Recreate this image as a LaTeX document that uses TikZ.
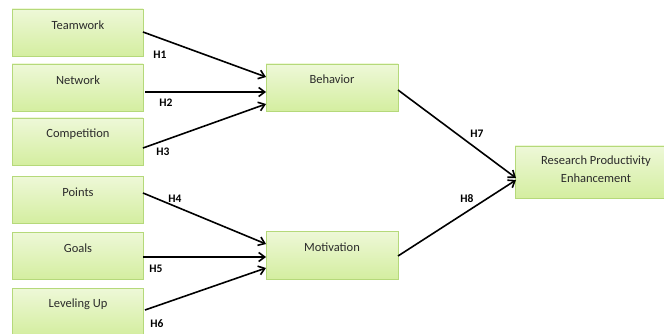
\documentclass[tikz,border=0pt]{standalone}
\usepackage{fontspec}
\setmainfont{Carlito}
\usetikzlibrary{arrows.meta,shadows}
\definecolor{boxline}{HTML}{B5D97A}
\definecolor{boxtop}{HTML}{EEF8D8}
\definecolor{boxbot}{HTML}{D4EEA0}
\definecolor{txt}{HTML}{2B2B2B}
\begin{document}
\begin{tikzpicture}[x=1pt,y=-1pt,
  box/.style={draw=boxline, line width=0.9pt, top color=boxtop, bottom color=boxbot,
     drop shadow={opacity=0.25, shadow xshift=1pt, shadow yshift=-1.2pt}},
  lbl/.style={font=\fontsize{12.5}{18}\selectfont, text=txt, anchor=center},
  hl/.style={font=\bfseries\fontsize{11.5}{13}\selectfont},
  arr/.style={-{Straight Barb[length=6pt,width=9pt,line width=1.6pt]}, line width=1.6pt, black}]
\useasboundingbox (0,0) rectangle (664,334);
% left boxes
\foreach \n/\t/\y in {tw/Teamwork/9, nw/Network/64, cp/Competition/118, pt/Points/176, gl/Goals/232, lv/Leveling Up/288}{
  \path[box] (12,\y) rectangle (143,\y+47);
  \coordinate (\n) at (143,\y);
  \node[lbl] (\n t) at (78,\y+16) {\t};
}
\path[box] (266,64) rectangle (398,111);
\node[lbl] (beh) at (332,79) {Behavior};
\path[box] (266,231) rectangle (398,279);
\node[lbl] (mot) at (332,247) {Motivation};
\path[box] (515,146) rectangle (672,198);
\node[lbl, align=center] (rpe) at (596,169) {Research Productivity\\Enhancement};
% coordinates for arrows
\coordinate (a1s) at (143,32); \coordinate (a1e) at (266,77);
\coordinate (a2s) at (145,92); \coordinate (a2e) at (266,92);
\coordinate (a3s) at (143,148); \coordinate (a3e) at (266,104);
\coordinate (a4s) at (143,193); \coordinate (a4e) at (266,244);
\coordinate (a5s) at (143,257); \coordinate (a5e) at (266,257);
\coordinate (a6s) at (145,310); \coordinate (a6e) at (266,268);
\coordinate (a7s) at (398,90); \coordinate (a7e) at (516,178);
\coordinate (a8s) at (398,256); \coordinate (a8e) at (516,180);
\foreach \i in {1,...,8}{ \draw[arr] (a\i s) -- (a\i e); }
\node[hl] (h1) at (160,55) {H1};
\node[hl] (h2) at (166,103) {H2};
\node[hl] (h3) at (163,152) {H3};
\node[hl] (h4) at (175,199) {H4};
\node[hl] (h5) at (156,269) {H5};
\node[hl] (h6) at (157,324) {H6};
\node[hl] (h7) at (477,134) {H7};
\node[hl] (h8) at (467,199) {H8};
\end{tikzpicture}
\end{document}
